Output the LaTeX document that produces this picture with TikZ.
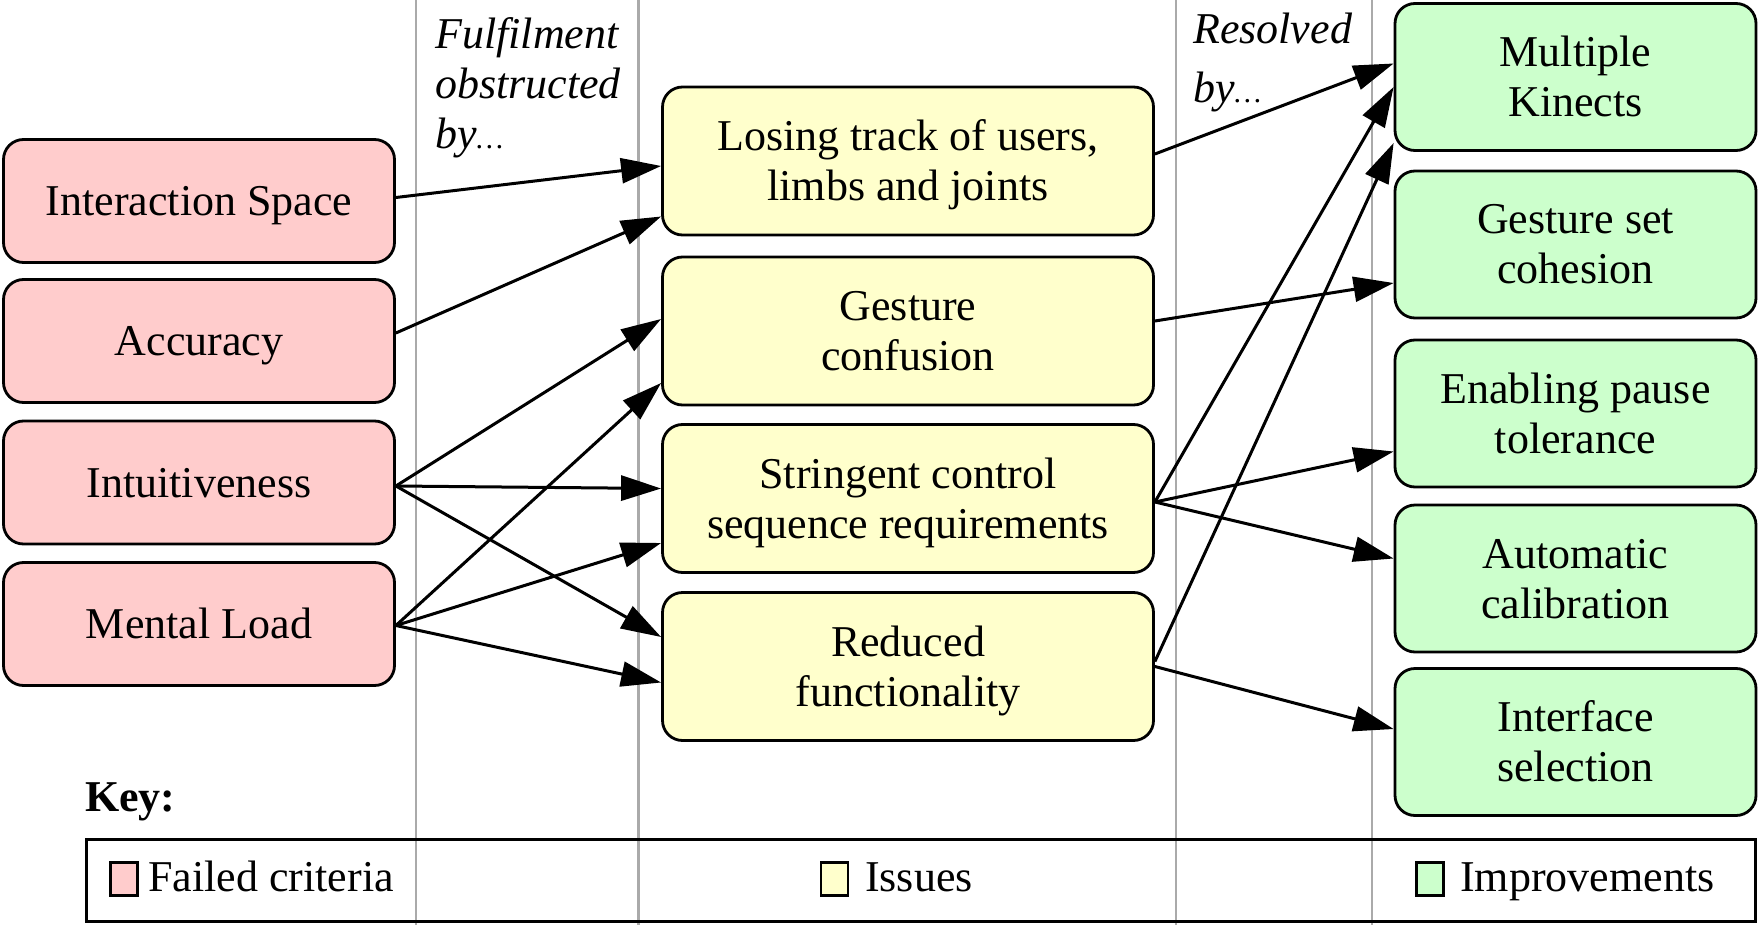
\documentclass[tikz,border=0pt]{standalone}
\usepackage{fontspec}
\setmainfont{Liberation Serif}
\usetikzlibrary{arrows.meta,calc}
\definecolor{redfill}{HTML}{FFCCCC}
\definecolor{yelfill}{HTML}{FFFFCC}
\definecolor{grnfill}{HTML}{CCFFCC}
\definecolor{sepgray}{HTML}{AAAAAA}
\newcommand{\oneline}[1]{\raisebox{0pt}[39pt][10pt]{#1}}
\newcommand{\twolines}[2]{\raisebox{0pt}[39pt][60pt]{\begin{tabular}[t]{@{}c@{}}#1\\#2\end{tabular}}}
\newcommand{\smalldots}{{\fontsize{30}{30}\selectfont …}}
\begin{document}
\begin{tikzpicture}[x=1pt,y=-1pt,
  txt/.style={font=\fontsize{44}{50}\selectfont},
  box/.style={txt,draw=black,line width=2.8pt,rounded corners=20pt,inner sep=0pt},
  crit/.style={box,fill=redfill,minimum width=391pt,minimum height=123pt},
  issue/.style={box,fill=yelfill,minimum width=491pt,minimum height=148pt},
  impr/.style={box,fill=grnfill,minimum width=361pt,minimum height=147pt},
  edge/.style={line width=3pt,-{Triangle[length=40pt,width=25pt]}},
  sepline/.style={draw=sepgray,line width=2.5pt},
  colhead/.style={font=\fontsize{44}{50}\selectfont\itshape,align=left,anchor=north west,inner sep=0pt},
  keysq/.style={draw=black,line width=2.8pt,minimum width=27pt,minimum height=33pt,inner sep=0pt},
  keytxt/.style={txt,anchor=base west,inner sep=0pt}]
\useasboundingbox (0,0) rectangle (1760,925);
% column separators
\draw[sepline] (416,0) -- (416,925);
\draw[sepline] (638.5,0) -- (638.5,925);
\draw[sepline] (1176,0) -- (1176,925);
\draw[sepline] (1372,0) -- (1372,925);
% column headings
\node[colhead] (h1) at (435,17) {Fulfilment\\obstructed\\by\smalldots};
\node[colhead] (h2) at (1193,13) {Resolved\\[9pt]by\smalldots};
% failed criteria
\node[crit] (r1) at (199,201) {\oneline{Interaction Space}};
\node[crit] (r2) at (199,341) {\oneline{Accuracy}};
\node[crit] (r3) at (199,482.5) {\oneline{Intuitiveness}};
\node[crit] (r4) at (199,624) {\oneline{Mental Load}};
% issues
\node[issue] (y1) at (908,161) {\twolines{Losing track of users,}{limbs and joints}};
\node[issue] (y2) at (908,331) {\twolines{Gesture}{confusion}};
\node[issue] (y3) at (908,498.5) {\twolines{Stringent control}{sequence requirements}};
\node[issue] (y4) at (908,666.5) {\twolines{Reduced}{functionality}};
% improvements
\node[impr] (g1) at (1575.5,77) {\twolines{Multiple}{Kinects}};
\node[impr] (g2) at (1575.5,244.5) {\twolines{Gesture set}{cohesion}};
\node[impr] (g3) at (1575.5,413.5) {\twolines{Enabling pause}{tolerance}};
\node[impr] (g4) at (1575.5,578.5) {\twolines{Automatic}{calibration}};
\node[impr] (g5) at (1575.5,742) {\twolines{Interface}{selection}};
% edges left
\draw[edge] ($(r1.east)+(0,-3.5)$) -- ($(y1.west)+(0,5)$);
\draw[edge] ($(r2.east)+(0,-8)$) -- ($(y1.west)+(0,55.5)$);
\draw[edge] ($(r3.east)+(0,3.5)$) -- ($(y2.west)+(0,-12)$);
\draw[edge] ($(r3.east)+(0,3.5)$) -- ($(y3.west)+(0,-10)$);
\draw[edge] ($(r3.east)+(0,3.5)$) -- ($(y4.west)+(0,-29.5)$);
\draw[edge] ($(r4.east)+(0,1.5)$) -- ($(y2.west)+(0,52)$);
\draw[edge] ($(r4.east)+(0,1.5)$) -- ($(y3.west)+(0,44.5)$);
\draw[edge] ($(r4.east)+(0,1.5)$) -- ($(y4.west)+(0,16)$);
% edges right
\draw[edge] ($(y1.east)+(0,-7)$) -- ($(g1.west)+(0,-13.5)$);
\draw[edge] ($(y2.east)+(0,-10)$) -- ($(g2.west)+(0,38.5)$);
\draw[edge] ($(y3.east)+(0,3.5)$) -- ($(g1.west)+(0,10)$);
\draw[edge] ($(y4.east)+(0,-5)$) -- ($(g1.west)+(0,66)$);
\draw[edge] ($(y3.east)+(0,3.5)$) -- ($(g3.west)+(0,38)$);
\draw[edge] ($(y3.east)+(0,3.5)$) -- ($(g4.west)+(0,-20)$);
\draw[edge] ($(y4.east)+(0,0)$) -- ($(g5.west)+(0,-13)$);
% key
\node[txt,font=\fontsize{44}{50}\selectfont\bfseries,anchor=base west,inner sep=0pt] (keyhead) at (85,811) {Key:};
\draw[line width=3pt] (86,839) rectangle (1755.5,921.5);
\node[keysq,fill=redfill] (k1) at (124,879) {};
\node[keytxt] (k1t) at (148,891) {Failed criteria};
\node[keysq,fill=yelfill] (k2) at (834.5,879) {};
\node[keytxt] (k2t) at (865,891) {Issues};
\node[keysq,fill=grnfill] (k3) at (1430,879) {};
\node[keytxt] (k3t) at (1460,891) {Improvements};
\end{tikzpicture}
\end{document}
